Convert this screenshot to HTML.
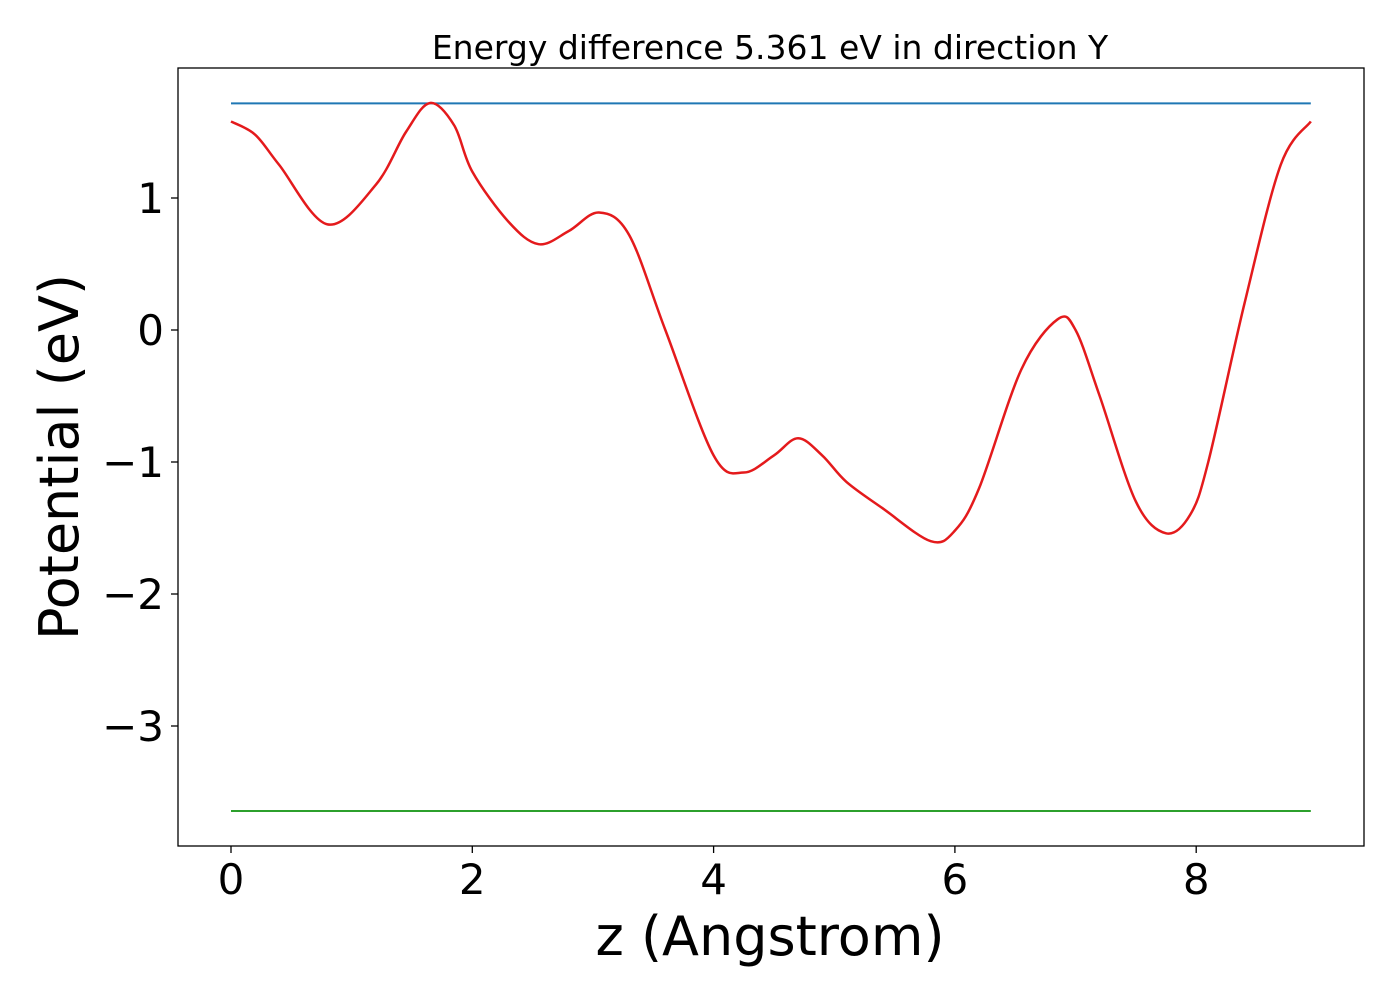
<!DOCTYPE html>
<html><head><meta charset="utf-8"><style>
body{margin:0;background:#fff;}
svg text{font-family:"DejaVu Sans","Liberation Sans",sans-serif;}
</style></head><body>
<svg id="chart" width="1400" height="1000">
<rect x="0" y="0" width="1400" height="1000" fill="#fff"/>
<text x="770" y="59" font-size="33" text-anchor="middle">Energy difference 5.361 eV in direction Y</text>
<g id="plot"></g>
<rect x="178" y="68" width="1186" height="778" fill="none" stroke="#000" stroke-width="1.3"/>
<text x="770" y="955" font-size="54" text-anchor="middle">z (Angstrom)</text>
<text transform="translate(78,457) rotate(-90)" font-size="54" text-anchor="middle">Potential (eV)</text>
</svg>
<script>
const xTicks=[0,2,4,6,8];
const yTicks=[1,0,-1,-2,-3];
const vbmLevel=1.717;
const cbmLevel=-3.644;
const zVals=[0,0.2,0.4,0.8,1.2,1.45,1.65,1.85,2.0,2.3,2.55,2.8,3.05,3.3,3.6,4.0,4.25,4.5,4.7,4.9,5.1,5.4,5.8,6.0,6.2,6.55,6.85,7.0,7.2,7.5,7.75,7.95,8.1,8.4,8.7,8.95];
const potVals=[1.58,1.48,1.25,0.80,1.1,1.5,1.72,1.55,1.2,0.82,0.65,0.75,0.89,0.72,0.0,-0.95,-1.08,-0.95,-0.82,-0.95,-1.15,-1.35,-1.60,-1.52,-1.2,-0.3,0.08,0.0,-0.5,-1.3,-1.54,-1.4,-1.0,0.2,1.25,1.58];
const X=z=>231+z*120.65;
const Y=v=>330-v*132;
const g=document.getElementById('plot');
const NS='http://www.w3.org/2000/svg';
function mk(t,a){const e=document.createElementNS(NS,t);for(const k in a)e.setAttribute(k,a[k]);g.appendChild(e);return e;}
xTicks.forEach(t=>{
 const l=mk('line',{x1:X(t),x2:X(t),y1:846,y2:853,stroke:'#000','stroke-width':1.3});
 
 
 const s=mk('text',{x:X(t),y:894,'font-size':42,'text-anchor':'middle'});
 s.textContent=String(t);
 
 
});
yTicks.forEach(t=>{
 const l=mk('line',{x1:171,x2:178,y1:Y(t),y2:Y(t),stroke:'#000','stroke-width':1.3});
 
 
 const s=mk('text',{x:164,y:Y(t)+15,'font-size':42,'text-anchor':'end'});
 s.textContent=t<0?'\u2212'+Math.abs(t):String(t);
 
 
});
const zMax=zVals[zVals.length-1];
const b=mk('line',{x1:X(0),x2:X(zMax),y1:Y(vbmLevel),y2:Y(vbmLevel),stroke:'#1f77b4','stroke-width':2});


const gr=mk('line',{x1:X(0),x2:X(zMax),y1:Y(cbmLevel),y2:Y(cbmLevel),stroke:'#2ca02c','stroke-width':2});


const P=zVals.map((z,i)=>[X(z),Y(potVals[i])]);
let d='M'+P[0][0]+','+P[0][1];
for(let i=0;i<P.length-1;i++){
 const p0=P[Math.max(0,i-1)],p1=P[i],p2=P[i+1],p3=P[Math.min(P.length-1,i+2)];
 const c1=[p1[0]+(p2[0]-p0[0])/6,p1[1]+(p2[1]-p0[1])/6];
 const c2=[p2[0]-(p3[0]-p1[0])/6,p2[1]-(p3[1]-p1[1])/6];
 d+=' C'+c1+' '+c2+' '+p2;
}
const r=mk('path',{d:d,fill:'none',stroke:'#e41a1c','stroke-width':2.5});


</script>
</body></html>
